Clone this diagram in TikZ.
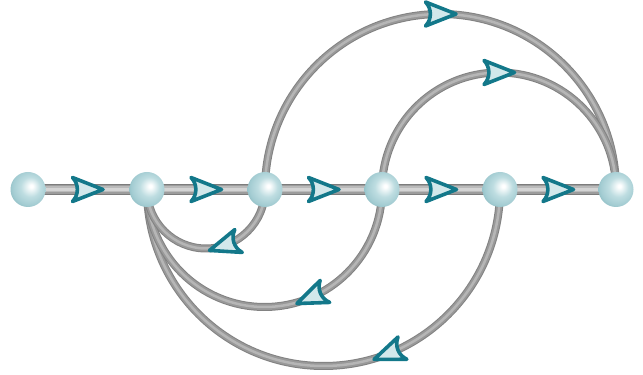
\documentclass[tikz,border=0pt]{standalone}
\usetikzlibrary{decorations.markings,calc}
\definecolor{tealo}{HTML}{13788A}
\definecolor{tealf}{HTML}{D2E8EB}
\definecolor{tubeA}{HTML}{7C7C7C}
\definecolor{tubeB}{HTML}{9C9C9C}
\definecolor{tubeC}{HTML}{BABABA}
\definecolor{tubeD}{HTML}{D4D4D4}
\definecolor{arcA}{HTML}{828282}
\definecolor{arcB}{HTML}{999999}
\definecolor{arcC}{HTML}{B6B6B6}
\definecolor{sphA}{HTML}{BEDDE1}
\definecolor{sphB}{HTML}{A3CCD2}
\definecolor{sphC}{HTML}{82B4BB}
\pgfdeclareradialshading{sphere}{\pgfpoint{5bp}{5bp}}{color(0bp)=(white); color(2bp)=(white); color(14bp)=(sphA); color(25bp)=(sphB); color(33bp)=(sphC); color(50bp)=(sphC)}
\pgfdeclarelayer{bg}
\pgfsetlayers{bg,main}
\newcommand\arrowglyph{\draw[draw=tealo, fill=tealf, line width=3.6pt, line join=round] (15.5,0) -- (-15,12) .. controls (-8.5,5) and (-8.5,-5) .. (-15,-12) -- cycle;}
\begin{document}
\begin{tikzpicture}[x=1pt,y=1pt,
  ball/.style={circle, minimum size=35pt, inner sep=0pt, shade, shading=sphere},
  bar/.style={line width=9pt, draw=tubeB, preaction={draw=tubeA, line width=11pt}, postaction={draw=tubeC, line width=6pt}, postaction={draw=tubeD, line width=2.5pt}},
  arcline/.style={line width=6pt, draw=arcB, preaction={draw=arcA, line width=8pt}, postaction={draw=arcC, line width=2.5pt}},
  arrowat/.style={postaction={decorate, decoration={markings, mark=at position #1 with {\arrowglyph}}}}]
\useasboundingbox (0,0) rectangle (643,375);
\node[ball] (n1) at (28,185.5) {};
\node[ball] (n2) at (147,185.5) {};
\node[ball] (n3) at (265,185.5) {};
\node[ball] (n4) at (382,185.5) {};
\node[ball] (n5) at (500,185.5) {};
\node[ball] (n6) at (616,185.5) {};
\begin{pgfonlayer}{bg}
\draw[bar, arrowat=0.5] (n1.center) -- (n2.center);
\draw[bar, arrowat=0.5] (n2.center) -- (n3.center);
\draw[bar, arrowat=0.5] (n3.center) -- (n4.center);
\draw[bar, arrowat=0.5] (n4.center) -- (n5.center);
\draw[bar, arrowat=0.5] (n5.center) -- (n6.center);
\draw[arcline, arrowat=0.5] let \p1=($(n6)-(n3)$) in (n3.center) arc[start angle=180, end angle=0, radius=0.5*\x1];
\draw[arcline, arrowat=0.5] let \p1=($(n6)-(n4)$) in (n4.center) arc[start angle=180, end angle=0, radius=0.5*\x1];
\draw[arcline, arrowat=0.38] let \p1=($(n5)-(n2)$) in (n5.center) arc[start angle=0, end angle=-180, radius=0.5*\x1];
\draw[arcline, arrowat=0.37] let \p1=($(n4)-(n2)$) in (n4.center) arc[start angle=0, end angle=-180, radius=0.5*\x1];
\draw[arcline, arrowat=0.4] let \p1=($(n3)-(n2)$) in (n3.center) arc[start angle=0, end angle=-180, radius=0.5*\x1];
\end{pgfonlayer}
\end{tikzpicture}
\end{document}
